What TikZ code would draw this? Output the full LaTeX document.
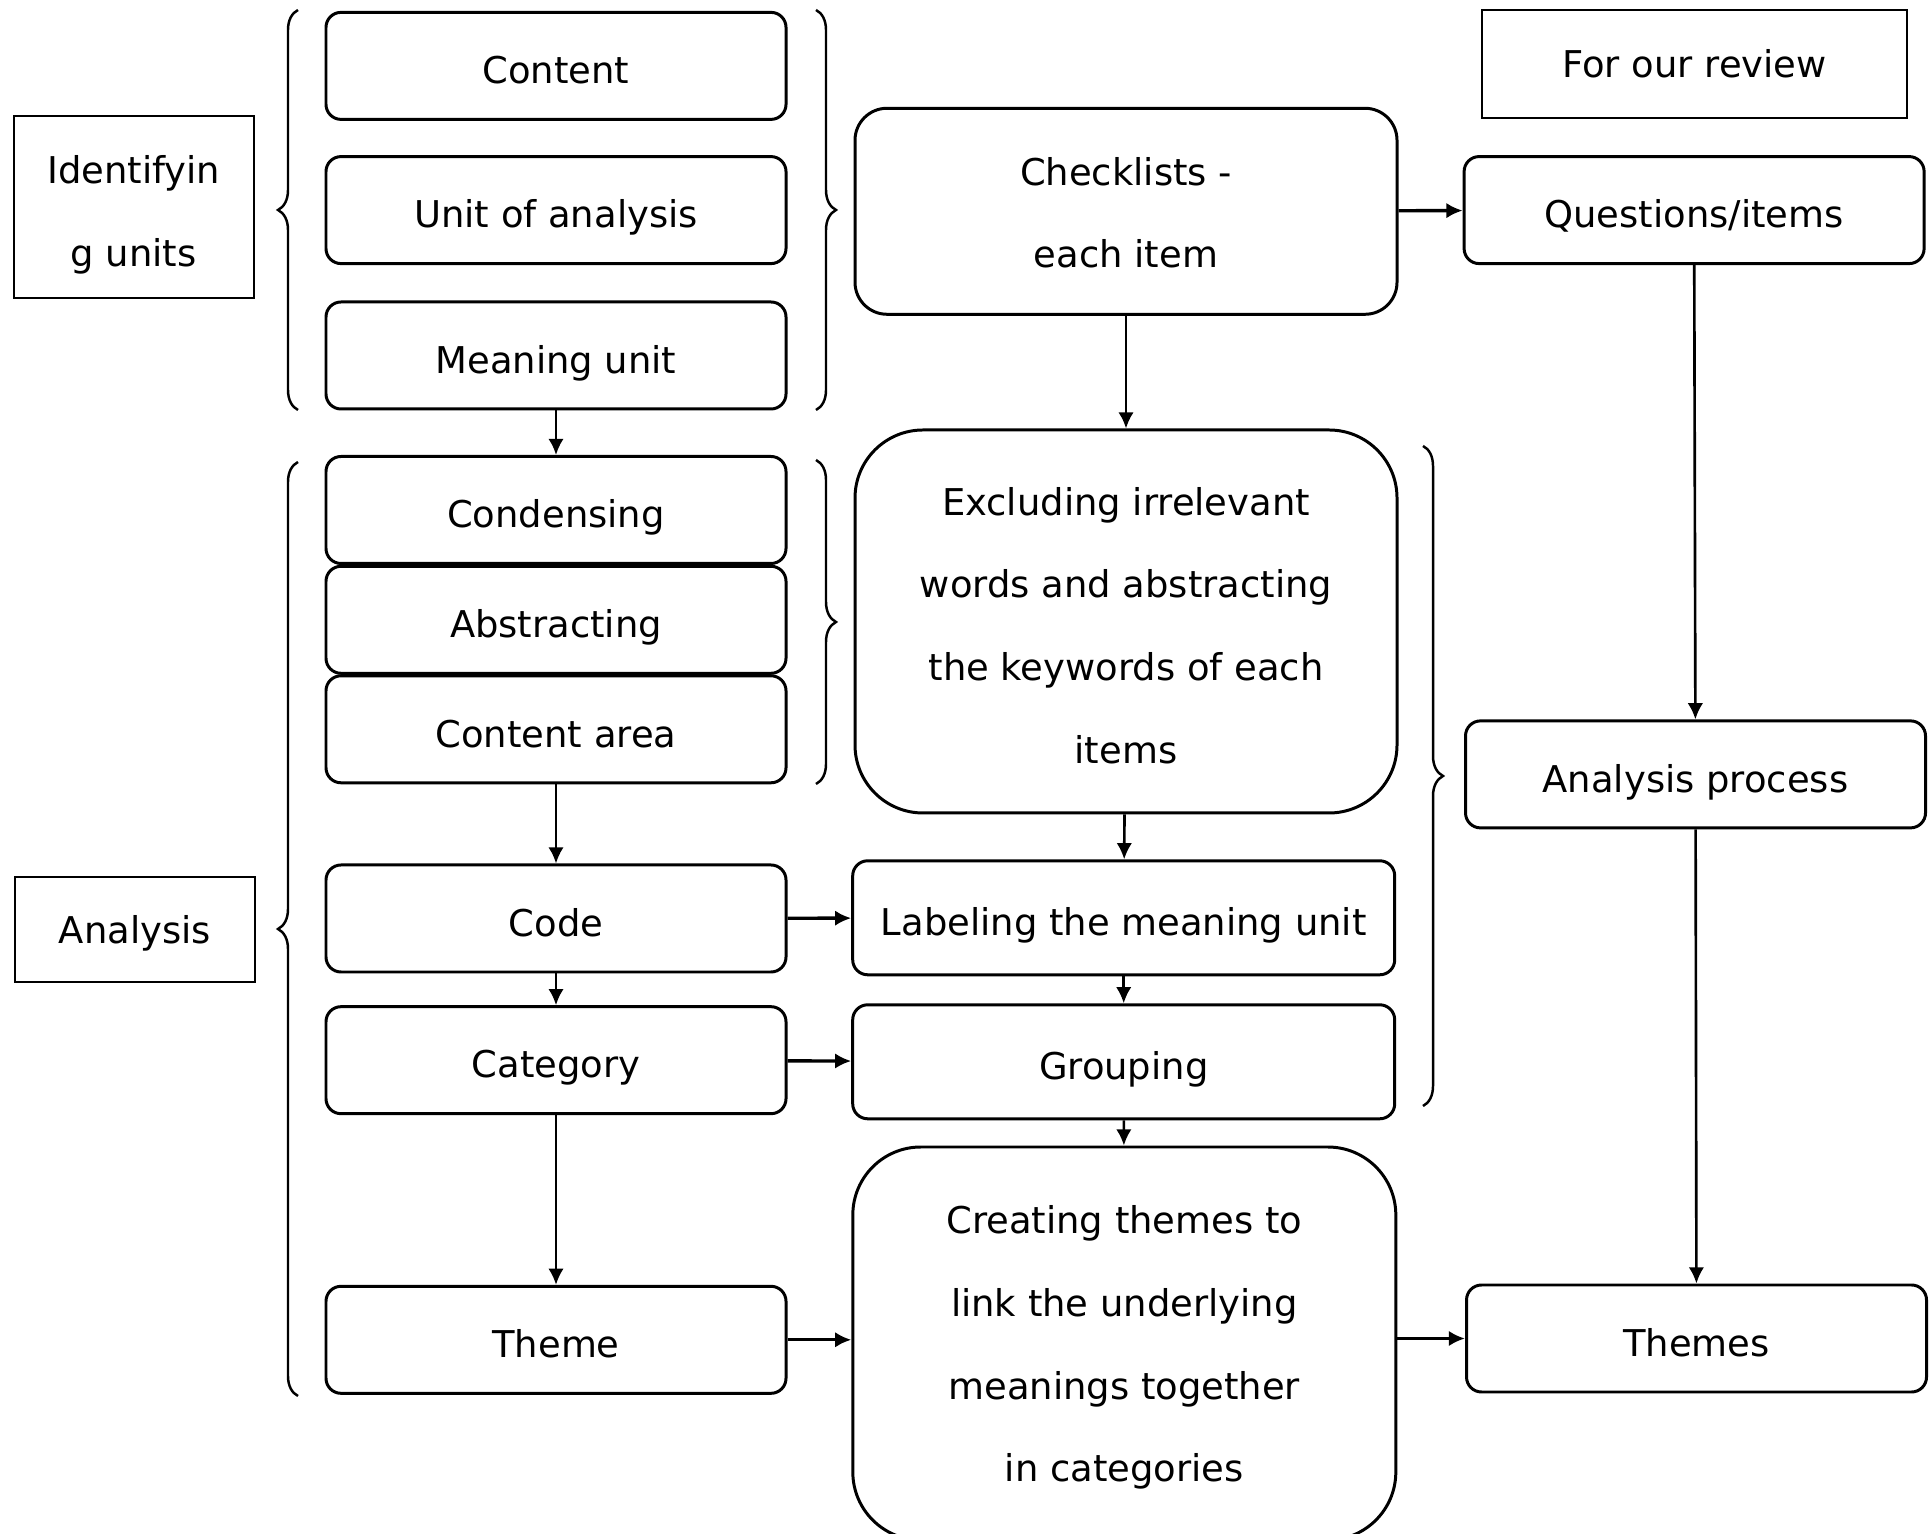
\documentclass[tikz,border=0pt]{standalone}
\usepackage{fontspec}
\setmainfont{DejaVu Sans}
\usetikzlibrary{arrows.meta,decorations.pathreplacing,positioning}

\tikzset{
  rbox/.style={draw,line width=0.85pt,rounded corners=0.15cm,inner sep=0pt,align=center,
    minimum width=4.6cm,minimum height=1.07cm,text height=10.1pt,text depth=0pt,
    font=\fontsize{10.5}{23.5}\selectfont},
  sqbox/.style={draw,line width=0.6pt,inner sep=0pt,align=center,text height=7.9pt,text depth=0pt,
    font=\fontsize{10.5}{23.5}\selectfont},
  arr/.style={-{Latex[length=4.6pt,width=4.4pt]},line width=0.75pt},
  harr/.style={arr,line width=0.95pt},
  brc/.style={decorate,decoration={brace,amplitude=0.2cm},line width=0.7pt}
}

\begin{document}
\begin{tikzpicture}
\useasboundingbox (0,0) rectangle (19.32,15.33);
% left labels
\node[sqbox,minimum width=2.4cm,minimum height=1.82cm,text height=33.6pt] (identify) at (1.337,13.26) {Identifyin\\g units};
\node[sqbox,minimum width=2.4cm,minimum height=1.05cm] (analysis) at (1.349,6.035) {Analysis};
\node[sqbox,minimum width=4.25cm,minimum height=1.08cm] (review) at (16.945,14.689) {For our review};
% first column
\node[rbox] (content) at (5.56,14.671) {Content};
\node[rbox] (unit) at (5.56,13.229) {Unit of analysis};
\node[rbox] (meaning) at (5.56,11.775) {Meaning unit};
\node[rbox] (condensing) at (5.56,10.23) {Condensing};
\node[rbox] (abstracting) at (5.56,9.132) {Abstracting};
\node[rbox] (contarea) at (5.56,8.037) {Content area};
\node[rbox] (code) at (5.56,6.145) {Code};
\node[rbox] (category) at (5.56,4.728) {Category};
\node[rbox] (theme) at (5.56,1.932) {Theme};
% second column
\node[rbox,minimum width=5.42cm,minimum height=2.06cm,rounded corners=0.32cm,text height=32.2pt] (checklist) at (11.26,13.217) {Checklists -\\each item};
\node[rbox,minimum width=5.42cm,minimum height=3.83cm,rounded corners=0.68cm,text height=80.6pt] (exclude) at (11.26,9.115)
  {Excluding irrelevant\\words and abstracting\\the keywords of each\\items};
\node[rbox,minimum width=5.42cm,minimum height=1.14cm] (labeling) at (11.237,6.152) {Labeling the meaning unit};
\node[rbox,minimum width=5.42cm,minimum height=1.14cm] (grouping) at (11.237,4.712) {Grouping};
\node[rbox,minimum width=5.43cm,minimum height=3.93cm,rounded corners=0.68cm,text height=78.6pt] (creating) at (11.243,1.895)
  {Creating themes to\\link the underlying\\meanings together\\in categories};
% third column
\node[rbox] (questions) at (16.941,13.229) {Questions/items};
\node[rbox] (process) at (16.955,7.586) {Analysis process};
\node[rbox] (themes) at (16.965,1.945) {Themes};
% arrows
\draw[arr] (meaning) -- (condensing);
\draw[arr] (contarea) -- (code);
\draw[arr] (code) -- (category);
\draw[arr] (category) -- (theme);
\draw[arr] (checklist) -- (exclude);
\draw[arr] (exclude) -- (labeling);
\draw[arr] (labeling) -- (grouping);
\draw[arr] (grouping) -- (creating);
\draw[arr] (questions) -- (process);
\draw[arr] (process) -- (themes);
\draw[harr] (checklist) -- (questions);
\draw[harr] (code) -- (labeling);
\draw[harr] (category) -- (grouping);
\draw[harr] (theme) -- (theme -| creating.west);
\draw[harr] (creating.east |- themes) -- (themes);
% braces
\draw[brc] (2.98,11.23) -- (2.98,15.23);
\draw[brc] (8.16,15.23) -- (8.16,11.23);
\draw[brc] (2.98,1.37) -- (2.98,10.71);
\draw[brc] (8.16,10.73) -- (8.16,7.49);
\draw[brc] (14.23,10.87) -- (14.23,4.27);
\end{tikzpicture}
\end{document}
